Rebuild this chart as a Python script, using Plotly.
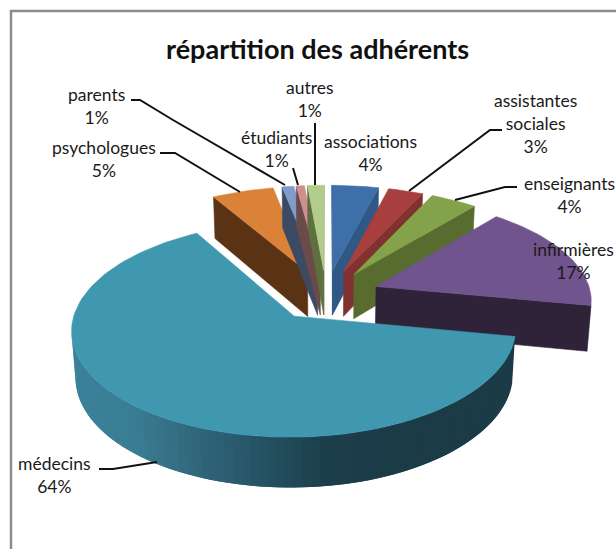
import math
import plotly.graph_objects as go

# Slices, clockwise from twelve o'clock
categories = ["associations", "assistantes<br>sociales", "enseignants", "infirmières", "médecins",
              "psychologues", "parents", "étudiants", "autres"]
values = [4.0, 3.0, 4.0, 17.0, 63.6, 5.3, 1.0, 0.7, 1.4]
top_colors = ["#3F6FA8", "#A63F3D", "#84A24A", "#70548E", "#3F97B0", "#DB8239", "#7F9CCB", "#CF8F8E", "#B3CC8C"]
wall_colors = ["#2F5886", "#7F3230", "#586C30", "#2E2338", "#1B3B47", "#5A3315", "#3C4A63", "#6B4A4A", "#5E6F40"]
label_xy = [(370, 140), (535, 99), (569, 182), (573, 248), (54, 462), (104, 146), (96, 93), (276, 136), (310, 86)]
paint_order = [5, 6, 7, 8, 0, 1, 2, 3, 4]
leaders = [
    [(131, 100), (140, 100), (173, 120), (285, 185)],
    [(160, 153), (175, 153), (240, 192)],
    [(293, 168), (298, 185)],
    [(315, 123), (315, 185)],
    [(502, 130), (490, 130), (409, 191)],
    [(517, 187), (505, 187), (455, 200)],
    [(99, 469), (113, 469), (157, 462)],
]
gradient_stops = [(73, (59, 129, 153)), (130, (58, 125, 147)), (200, (47, 100, 120)),
                  (270, (35, 78, 94)), (320, (28, 63, 76)), (380, (27, 59, 71))]

CX, CY, AX, BY, K, EXPLODE, DEPTH, SHRINK = 326, 295, 215, 101, 0.12, 0.25, 46, 0.015


def project(u, v, low=False):
    w = 1 + K * v + (SHRINK if low else 0)
    return CX + AX * u / w, CY + (-BY * v + (DEPTH if low else 0)) / w


def area(poly):
    return sum(poly[i][0] * poly[(i + 1) % len(poly)][1] - poly[(i + 1) % len(poly)][0] * poly[i][1]
               for i in range(len(poly))) / 2


def polygon(fig, poly, color, width=0.6):
    xs = [p[0] for p in poly] + [poly[0][0]]
    ys = [p[1] for p in poly] + [poly[0][1]]
    fig.add_trace(go.Scatter(x=xs, y=ys, mode="lines", fill="toself", fillcolor=color,
                             line=dict(color=color, width=width), hoverinfo="skip", showlegend=False))


def gradient(x):
    if x <= gradient_stops[0][0]:
        return gradient_stops[0][1]
    for (x0, c0), (x1, c1) in zip(gradient_stops, gradient_stops[1:]):
        if x <= x1:
            t = (x - x0) / (x1 - x0)
            return tuple(c0[i] + (c1[i] - c0[i]) * t for i in range(3))
    return gradient_stops[-1][1]


fig = go.Figure()
total = sum(values)
starts = [sum(values[:i]) / total * 2 * math.pi for i in range(len(values))]
ends = [sum(values[:i + 1]) / total * 2 * math.pi for i in range(len(values))]

for i in paint_order:
    a0, a1 = starts[i], ends[i]
    mid = (a0 + a1) / 2
    ou, ov = EXPLODE * math.sin(mid), EXPLODE * math.cos(mid)
    n = max(2, int((a1 - a0) / math.radians(2)))
    rim = [(ou + math.sin(a0 + (a1 - a0) * j / n), ov + math.cos(a0 + (a1 - a0) * j / n)) for j in range(n + 1)]
    top = [project(ou, ov)] + [project(*p) for p in rim]
    orient = 1 if area(top) > 0 else -1
    # radial cut faces
    for edge, flip in ((rim[0], 1), (rim[-1], -1)):
        face = [project(ou, ov), project(*edge), project(*edge, low=True), project(ou, ov, low=True)]
        if area(face) * orient * flip < 0:
            polygon(fig, face, wall_colors[i])
    # outer rim: each quad overlaps the next so that no seams show
    for j in range(n):
        k = min(j + 2, n)
        quad = [project(*rim[j]), project(*rim[k]), project(*rim[k], low=True), project(*rim[j], low=True)]
        if area(quad) * orient < 0:
            color = wall_colors[i]
            if categories[i] == "médecins":
                r, g, b = gradient((quad[0][0] + quad[1][0]) / 2)
                color = f"rgb({r:.0f},{g:.0f},{b:.0f})"
            polygon(fig, quad, color, width=0)
    polygon(fig, top, top_colors[i])

# leader lines
for pts in leaders:
    fig.add_trace(go.Scatter(x=[p[0] for p in pts], y=[p[1] for p in pts], mode="lines",
                             line=dict(color="#111111", width=2), hoverinfo="skip", showlegend=False))

# chart frame
fig.add_trace(go.Scatter(x=[11, 11, 616], y=[549, 11, 11], mode="lines",
                         line=dict(color="#8C8C8C", width=2.5), hoverinfo="skip", showlegend=False))

annotations = [dict(x=317, y=48, text="<b>répartition des adhérents</b>", showarrow=False,
                    font=dict(family="Lato", size=27, color="#111111"), xanchor="center", yanchor="middle")]
for cat, val, (lx, ly) in zip(categories, values, label_xy):
    annotations.append(dict(x=lx, y=ly - 11, text=f"{cat}<br>{round(val)}%", showarrow=False, align="center",
                            xanchor="center", yanchor="top", font=dict(family="Lato", size=17.5, color="#1A1A1A")))

fig.update_layout(width=616, height=549, margin=dict(l=0, r=0, t=0, b=0), paper_bgcolor="white",
                  plot_bgcolor="white", showlegend=False, annotations=annotations,
                  xaxis=dict(range=[0, 616], visible=False, fixedrange=True),
                  yaxis=dict(range=[549, 0], visible=False, fixedrange=True))
fig.write_html("out.html", config=dict(displayModeBar=False),
               post_script="document.body.style.margin='0';document.documentElement.style.overflow='hidden';")
